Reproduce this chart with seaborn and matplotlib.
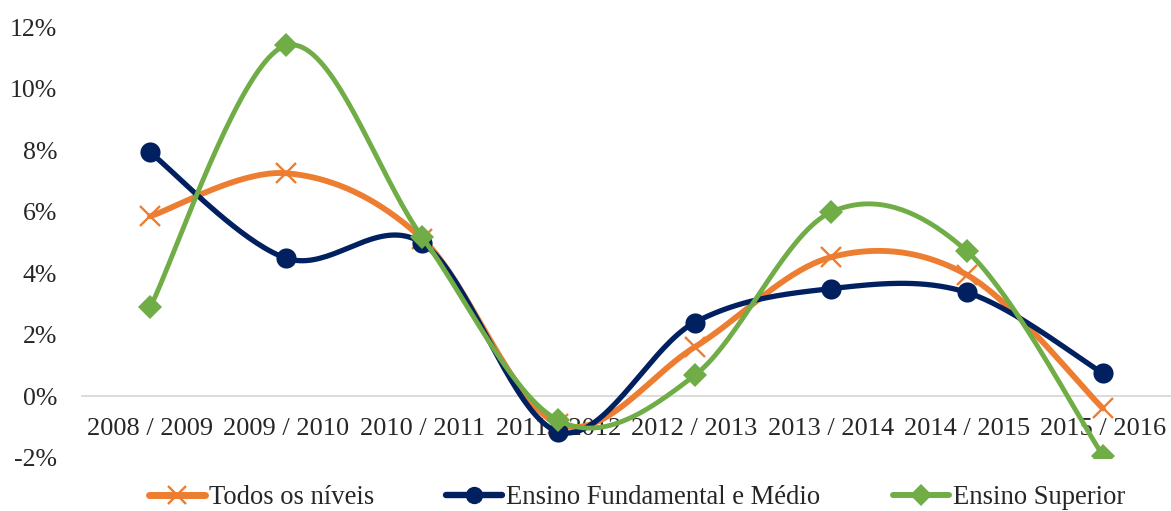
import numpy as np
import pandas as pd
import matplotlib
matplotlib.use("Agg")
import matplotlib.pyplot as plt
from matplotlib.lines import Line2D
import seaborn as sns

# Annual change by education level
periods = ["2008 / 2009", "2009 / 2010", "2010 / 2011", "2011 / 2012",
           "2012 / 2013", "2013 / 2014", "2014 / 2015", "2015 / 2016"]
todos = [5.85, 7.25, 5.12, -0.90, 1.60, 4.52, 3.95, -0.39]
fundamental = [7.93, 4.49, 4.98, -1.15, 2.40, 3.50, 3.38, 0.75]
superior = [2.89, 11.40, 5.17, -0.78, 0.68, 5.98, 4.72, -1.92]
series_names = ["Todos os níveis", "Ensino Fundamental e Médio", "Ensino Superior"]
y_ticks = [-2, 0, 2, 4, 6, 8, 10, 12]

colors = ["#ED7D31", "#002060", "#70AD47"]
markers = ["x", "o", "D"]
marker_sizes = [14, 14.5, 12]
legend_marker_sizes = [13, 12.5, 11]
line_widths = [4.2, 3.8, 3.5]


def smooth_curve(xs, ys, steps=40):
    """Cubic Bezier smoothing through every point (Catmull-Rom tangents)."""
    pts = np.column_stack([xs, ys]).astype(float)
    n = len(pts)
    out = []
    for i in range(n - 1):
        p0 = pts[max(i - 1, 0)]
        p1 = pts[i]
        p2 = pts[i + 1]
        p3 = pts[min(i + 2, n - 1)]
        c1 = p1 + (p2 - p0) / 6.0
        c2 = p2 - (p3 - p1) / 6.0
        t = np.linspace(0, 1, steps, endpoint=(i == n - 2))[:, None]
        seg = ((1 - t) ** 3) * p1 + 3 * ((1 - t) ** 2) * t * c1 \
            + 3 * (1 - t) * t ** 2 * c2 + t ** 3 * p2
        out.append(seg)
    out = np.vstack(out)
    return out[:, 0], out[:, 1]


sns.set_theme(style="white")
plt.rcParams["font.family"] = ["Liberation Serif", "DejaVu Serif"]

fig = plt.figure(figsize=(11.71, 5.11), dpi=100)
ax = fig.add_axes([82 / 1171, 1 - 458 / 511, 1 - 82 / 1171, (458 - 27) / 511])

x_pos = np.arange(len(periods))
all_values = [todos, fundamental, superior]
handles = []
for k, (name, vals) in enumerate(zip(series_names, all_values)):
    sx, sy = smooth_curve(x_pos, vals)
    curve = pd.DataFrame({"x": sx, "y": sy})
    sns.lineplot(data=curve, x="x", y="y", sort=False, estimator=None,
                 color=colors[k], lw=line_widths[k], ax=ax, zorder=3 + k,
                 solid_capstyle="round")
    is_x = markers[k] == "x"
    ax.plot(x_pos, vals, linestyle="none", marker=markers[k],
            markersize=marker_sizes[k], markeredgewidth=1.7 if is_x else 0,
            color=colors[k], zorder=3 + k)
    handles.append(Line2D([0], [0], color=colors[k], lw=line_widths[k] + 0.8,
                          marker=markers[k], markersize=legend_marker_sizes[k],
                          markeredgewidth=1.7 if is_x else 0,
                          solid_capstyle="round"))

ax.set_xlim(-0.5, len(periods) - 0.5)
ax.set_ylim(-2, 12)
ax.set_xlabel("")
ax.set_ylabel("")
ax.set_yticks(y_ticks)
ax.set_yticklabels([f"{v}%" for v in y_ticks])
ax.set_xticks(x_pos)
ax.set_xticklabels(periods)

for side in ["top", "right", "left"]:
    ax.spines[side].set_visible(False)
ax.spines["bottom"].set_position(("data", 0))
ax.spines["bottom"].set_color("#D9D9D9")
ax.spines["bottom"].set_linewidth(1.3)
ax.spines["bottom"].set_zorder(1)

ax.tick_params(axis="y", length=0, pad=18, labelsize=18.6)
ax.tick_params(axis="x", length=0, pad=15.5, labelsize=19)
for lab in ax.get_xticklabels():
    lab.set_zorder(2)
ax.patch.set_alpha(0)

fig.legend(handles, series_names, loc="center", bbox_to_anchor=(0.544, 1 - 498 / 511),
           ncol=3, frameon=False, fontsize=19.2, handlelength=2.1,
           handletextpad=0.15, columnspacing=2.7)

fig.savefig("out.png", dpi=100, facecolor="white")
